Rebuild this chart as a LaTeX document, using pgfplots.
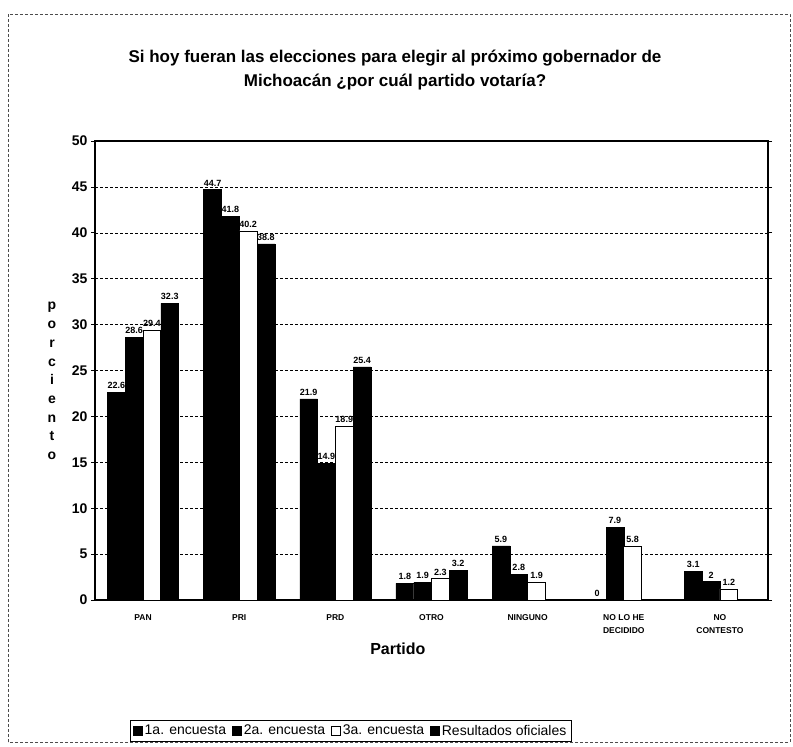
\documentclass[border=0pt]{standalone}
\usepackage{fontspec}
\setmainfont{Liberation Sans}
\usepackage{pgfplots}
\pgfplotsset{compat=1.18}
\begin{document}
\begin{tikzpicture}[x=1pt,y=1pt]
\path[use as bounding box] (0,0) rectangle (793,747);
\draw[densely dashed, black!70, line width=0.6pt] (8,5) rectangle (790,733);
\node[font=\fontsize{17}{24}\selectfont\bfseries, align=center] at (395,677) {Si hoy fueran las elecciones para elegir al próximo gobernador de\\Michoacán ¿por cuál partido votaría?};
\node[font=\fontsize{14}{18.7}\selectfont\bfseries, align=center] at (52,366) {p\\o\\r\\c\\i\\e\\n\\t\\o};
\begin{axis}[
  at={(95pt,147pt)}, anchor=south west, scale only axis,
  width=673pt, height=459pt,
  ybar=0pt, bar width=0.185,
  xmin=-0.5, xmax=6.5, ymin=0, ymax=50,
  xtick={0,...,6},
  xticklabels={PAN,PRI,PRD,OTRO,NINGUNO,{NO LO HE\\DECIDIDO},{NO\\CONTESTO}},
  xticklabel style={font=\fontsize{8.5}{13}\selectfont\bfseries, align=center, yshift=-7pt},
  major x tick style={draw=none},
  ytick={0,5,...,50},
  yticklabel style={font=\fontsize{14}{14}\selectfont\bfseries},
  /pgf/number format/assume math mode=true,
  ymajorgrids, grid style={densely dashed, black, line width=0.5pt},
  axis line style={black, line width=1.2pt},
  tick align=outside, major tick length=4pt,
  ytick style={black, line width=0.6pt},
  xlabel={Partido},
  xlabel style={font=\fontsize{16}{16}\selectfont\bfseries, at={(axis description cs:0.45,-0.107)}, anchor=center},
  nodes near coords,
  nodes near coords style={font=\fontsize{9}{9}\selectfont\bfseries, black},
  legend columns=4,
  legend style={at={(0.38,-0.285)}, anchor=center, draw=black, line width=0.8pt, font=\fontsize{14}{14}\selectfont, /tikz/every even column/.append style={column sep=4pt}, inner xsep=3pt, inner ysep=3pt},
  legend image code/.code={\draw[#1, line width=0.6pt] (0pt,-4.5pt) rectangle (9pt,4.5pt);},
]
\addplot[fill=black, draw=black] coordinates {(0,22.6) (1,44.7) (2,21.9) (3,1.8) (4,5.9) (5,0) (6,3.1)};
\addplot[fill=black, draw=black] coordinates {(0,28.6) (1,41.8) (2,14.9) (3,1.9) (4,2.8) (5,7.9) (6,2)};
\addplot[fill=white, draw=black, line width=0.8pt] coordinates {(0,29.4) (1,40.2) (2,18.9) (3,2.3) (4,1.9) (5,5.8) (6,1.2)};
\addplot[fill=black, draw=black] coordinates {(0,32.3) (1,38.8) (2,25.4) (3,3.2)};
\legend{1a. encuesta, 2a. encuesta, 3a. encuesta, Resultados oficiales}
\end{axis}
\end{tikzpicture}
\end{document}
